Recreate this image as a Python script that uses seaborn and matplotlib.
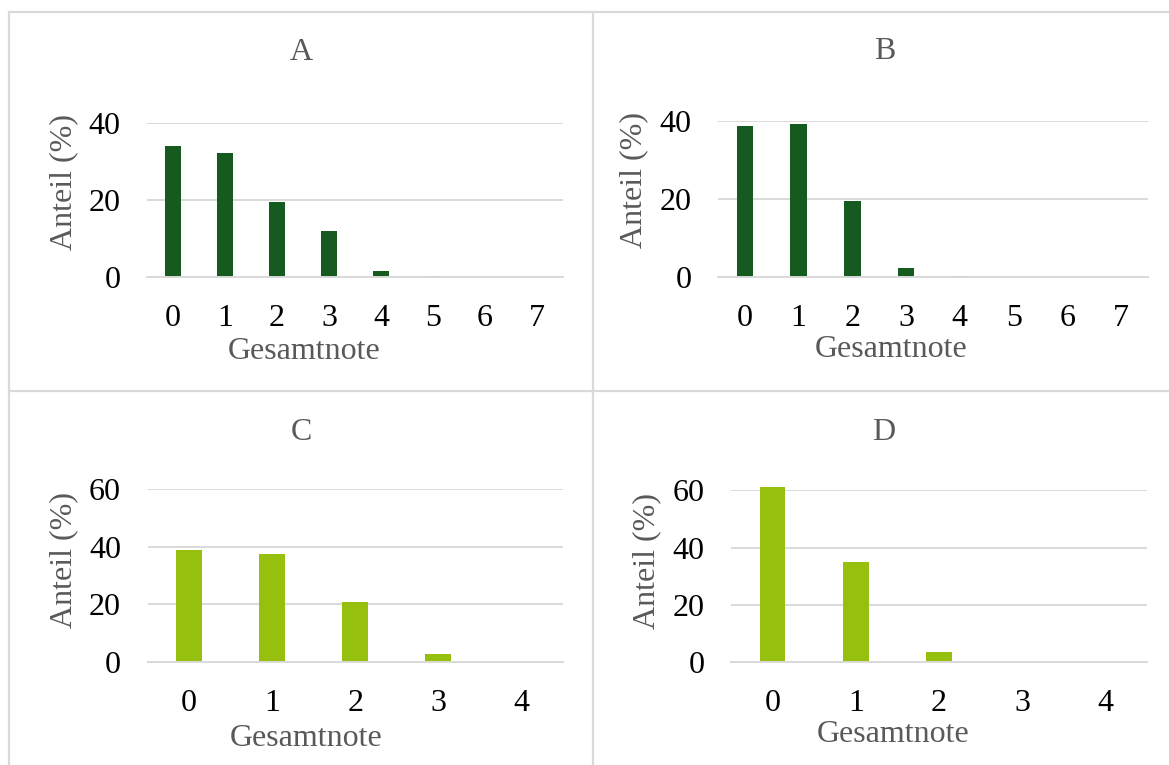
import matplotlib
matplotlib.use("Agg")
import matplotlib.pyplot as plt
from matplotlib.lines import Line2D
import seaborn as sns
import pandas as pd

# ---- data ----
panel_titles = ["A", "B", "C", "D"]
scores_8 = ["0", "1", "2", "3", "4", "5", "6", "7"]
scores_5 = ["0", "1", "2", "3", "4"]
share_A = [34.1, 32.2, 19.6, 12.0, 1.5, 0.1, 0.0, 0.0]
share_B = [38.6, 39.3, 19.5, 2.3, 0.2, 0.0, 0.0, 0.0]
share_C = [38.9, 37.5, 20.7, 2.9, 0.0]
share_D = [61.2, 34.9, 3.5, 0.0, 0.0]
yticks_AB = [0, 20, 40]
yticks_CD = [0, 20, 40, 60]
x_label = "Gesamtnote"
y_label = "Anteil (%)"

DARK = "#155A1E"
LIGHT = "#97BF0D"
GRID = "#D9D9D9"
GREYTXT = "#595959"
FS = 23

sns.set_theme(style="white")
plt.rcParams["font.family"] = ["Liberation Serif", "DejaVu Serif"]

W, H = 1169, 765
fig = plt.figure(figsize=(W / 100, H / 100), dpi=100)
fig.patch.set_facecolor("white")


def fx(px):
    return px / W


def fy(py):
    return 1 - py / H


panels = [
    dict(title=panel_titles[0], cats=scores_8, vals=share_A, color=DARK, yt=yticks_AB,
         box=(147, 563, 123.3, 276.7), title_xy=(301, 52.5), xl_xy=(304, 352),
         yl_xy=(64, 182), ticks=False),
    dict(title=panel_titles[1], cats=scores_8, vals=share_B, color=DARK, yt=yticks_AB,
         box=(718, 1148, 121, 276.7), title_xy=(884.5, 51.5), xl_xy=(891, 350),
         yl_xy=(634, 180), ticks=True),
    dict(title=panel_titles[2], cats=scores_5, vals=share_C, color=LIGHT, yt=yticks_CD,
         box=(147.5, 563, 488.7, 662.3), title_xy=(301, 433), xl_xy=(306.5, 738),
         yl_xy=(64, 560), ticks=False),
    dict(title=panel_titles[3], cats=scores_5, vals=share_D, color=LIGHT, yt=yticks_CD,
         box=(731, 1147, 490.3, 662.3), title_xy=(884, 432.5), xl_xy=(893.5, 735),
         yl_xy=(647, 561), ticks=False),
]

for p in panels:
    l, r, t, b = p["box"]
    ax = fig.add_axes([fx(l), fy(b), fx(r) - fx(l), fy(t) - fy(b)])
    df = pd.DataFrame({"score": p["cats"], "share": p["vals"]})
    sns.barplot(data=df, x="score", y="share", order=p["cats"], color=p["color"],
                width=0.31, saturation=1, ax=ax, edgecolor="none")
    for patch in ax.patches:
        patch.set_clip_on(False)
    n = len(p["cats"])
    ax.set_xlim(-0.5, n - 0.5)
    ax.set_ylim(0, p["yt"][-1])
    ax.set_yticks(p["yt"])
    ax.set_yticklabels([str(v) for v in p["yt"]])
    ax.set_axisbelow(True)
    ax.yaxis.grid(True, color=GRID, linewidth=1.4)
    ax.xaxis.grid(False)
    for s in ["top", "right", "left"]:
        ax.spines[s].set_visible(False)
    ax.spines["bottom"].set_color(GRID)
    ax.spines["bottom"].set_linewidth(1.4)
    ax.set_xlabel("")
    ax.set_ylabel("")
    ax.tick_params(axis="y", length=0, pad=19, labelsize=FS, labelcolor="black")
    ax.tick_params(axis="x", which="major", length=0, pad=19.5, labelsize=FS,
                   labelcolor="black")
    if p["ticks"]:
        ax.set_xticks([i - 0.5 for i in range(n + 1)], minor=True)
        ax.tick_params(axis="x", which="minor", length=6.5, width=1.4,
                       color=GRID, direction="out")
    ax.set_facecolor("white")

    fig.text(fx(p["title_xy"][0]), fy(p["title_xy"][1]), p["title"], ha="center",
             va="center", fontsize=FS, color=GREYTXT)
    fig.text(fx(p["xl_xy"][0]), fy(p["xl_xy"][1]), x_label, ha="center",
             va="center", fontsize=FS, color=GREYTXT)
    fig.text(fx(p["yl_xy"][0]), fy(p["yl_xy"][1]), y_label, ha="center",
             va="center", fontsize=FS, color=GREYTXT, rotation=90)

# panel borders
border_kw = dict(color=GRID, linewidth=1.6, transform=fig.transFigure)
fig.add_artist(Line2D([fx(8.5), 1], [fy(12), fy(12)], **border_kw))
fig.add_artist(Line2D([fx(8.5), fx(8.5)], [fy(12), 0], **border_kw))
fig.add_artist(Line2D([fx(8.5), 1], [fy(391), fy(391)], **border_kw))
fig.add_artist(Line2D([fx(592.5), fx(592.5)], [fy(12), 0], **border_kw))

fig.savefig("out.png", dpi=100, facecolor="white")
